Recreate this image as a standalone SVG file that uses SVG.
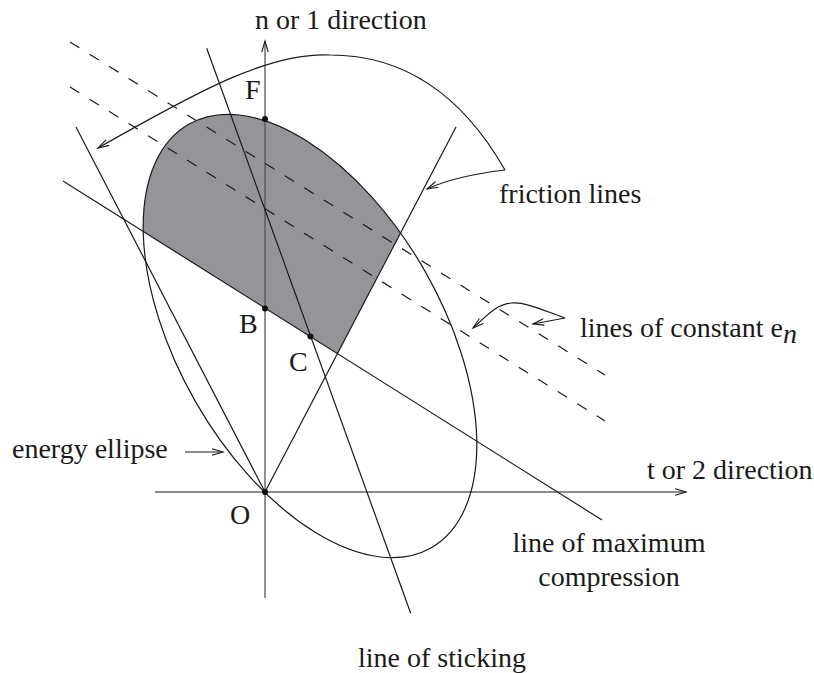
<svg xmlns="http://www.w3.org/2000/svg" width="814" height="673" viewBox="0 0 814 673">
<style>
.ln{fill:none;stroke:#1a1a1a;stroke-width:1.2}
.ds{fill:none;stroke:#1a1a1a;stroke-width:1.2;stroke-dasharray:11 12}
.ax{fill:none;stroke:#555;stroke-width:1.3}
.tx{font-family:"Liberation Serif","Times New Roman",serif;font-size:28px;fill:#1a1a1a}
.dot{fill:#111}
</style>
<defs>
<marker id="arr" markerUnits="userSpaceOnUse" markerWidth="14" markerHeight="10" viewBox="-12 -5 14 10" refX="0" refY="0" orient="auto">
<path d="M-11,-3.2 L0,0 L-11,3.2" fill="none" stroke="#1a1a1a" stroke-width="1.1"/>
</marker>
<clipPath id="reg" clipPathUnits="userSpaceOnUse">
<polygon points="0,141.35 337.3,353.9 522.5,0 0,0"/>
</clipPath>
</defs>
<g id="shaded" clip-path="url(#reg)">
<ellipse cx="0" cy="0" rx="244" ry="132" transform="translate(310,336) rotate(60.2)" fill="#949599"/>
</g>
<g id="connectors">
<ellipse id="energy-ellipse" class="ln" cx="0" cy="0" rx="244" ry="132" transform="translate(310,336) rotate(60.2)"/>
<line class="ax" x1="265" y1="598" x2="265" y2="41" marker-end="url(#arr)"/>
<line class="ln" x1="155" y1="492" x2="686" y2="492" marker-end="url(#arr)"/>
<line id="max-compression" class="ln" x1="63" y1="181" x2="602" y2="520"/>
<line id="sticking" class="ln" x1="206.7" y1="48.3" x2="410.7" y2="613.3"/>
<line id="friction-right" class="ln" x1="265" y1="492" x2="456" y2="127"/>
<line id="friction-left" class="ln" x1="265" y1="492" x2="76" y2="127"/>
<line class="ds" x1="70" y1="42" x2="605" y2="375"/>
<line class="ds" x1="70" y1="87" x2="605" y2="421"/>
<path class="ln" d="M505,170 C465,100 410,55 330,55 C270,52 200,90 98,148" marker-end="url(#arr)"/>
<path class="ln" d="M505,170 Q455,176 427,189" marker-end="url(#arr)"/>
<path class="ln" d="M565,318 L533,324" marker-end="url(#arr)"/>
<path class="ln" d="M565,318 C540,309 525,302 512,303 C495,304 485,318 473,328" marker-end="url(#arr)"/>
<line class="ln" x1="185" y1="452" x2="223" y2="452" marker-end="url(#arr)"/>
</g>
<g id="points">
<circle class="dot" cx="265" cy="119" r="3"/>
<circle class="dot" cx="265" cy="308.5" r="3"/>
<circle class="dot" cx="310.5" cy="336.5" r="3"/>
<circle class="dot" cx="265" cy="492" r="3"/>
</g>
<g id="labels">
<text class="tx" x="255" y="29">n or 1 direction</text>
<text class="tx" x="245" y="99">F</text>
<text class="tx" x="239" y="333">B</text>
<text class="tx" x="289" y="371">C</text>
<text class="tx" x="230" y="524">O</text>
<text class="tx" x="499" y="203">friction lines</text>
<text class="tx" x="580" y="337">lines of constant e<tspan font-style="italic" dy="6">n</tspan></text>
<text class="tx" x="12" y="458">energy ellipse</text>
<text class="tx" x="647" y="479">t or 2 direction</text>
<text class="tx" x="609" y="552" text-anchor="middle">line of maximum</text>
<text class="tx" x="609" y="586" text-anchor="middle">compression</text>
<text class="tx" x="358" y="667">line of sticking</text>
</g>
</svg>
